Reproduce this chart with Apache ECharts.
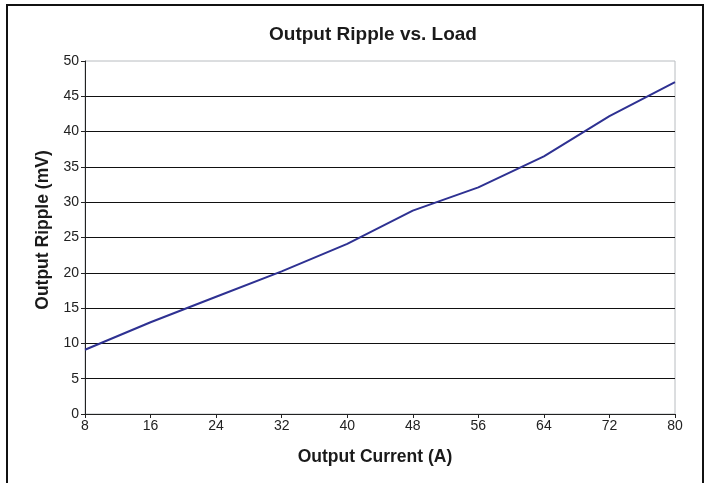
<!DOCTYPE html>
<html>
<head>
<meta charset="utf-8">
<script src="https://cdn.jsdelivr.net/npm/echarts@6/dist/echarts.min.js"></script>
<style>html,body{margin:0;padding:0;background:#fff;}#c{width:709px;height:483px;}</style>
</head>
<body>
<div id="c"></div>
<script>
var currents = [8, 16, 24, 32, 40, 48, 56, 64, 72, 80];
var ripple = [9.1, 13.0, 16.6, 20.2, 24.1, 28.8, 32.1, 36.5, 42.2, 47.0];
var titleText = 'Output Ripple vs. Load';
var xName = 'Output Current (A)';
var yName = 'Output Ripple (mV)';

var chart = echarts.init(document.getElementById('c'), null, {renderer: 'canvas'});
var font = '"Liberation Sans", Arial, sans-serif';
chart.setOption({
  animation: false,
  backgroundColor: '#fff',
  title: {
    text: titleText, left: 368, top: 20, textAlign: 'center',
    textStyle: {fontFamily: font, fontSize: 19, fontWeight: 'bold', color: '#1a1a1a'}
  },
  graphic: [{
    type: 'rect', shape: {x: 7, y: 5, width: 696, height: 500},
    style: {fill: 'none', stroke: '#111', lineWidth: 2}, silent: true
  }],
  grid: {left: 85, right: 34, top: 61, bottom: 69, show: true, borderColor: '#b8bcc0', borderWidth: 1, backgroundColor: 'transparent'},
  xAxis: {
    type: 'value', min: 8, max: 80, interval: 8,
    name: xName, nameLocation: 'middle', nameGap: 34,
    nameTextStyle: {fontFamily: font, fontSize: 17.5, fontWeight: 'bold', color: '#1a1a1a', padding: [0, 10, 0, 0]},
    axisLine: {lineStyle: {color: '#222', width: 1}},
    axisTick: {show: true, length: 4, lineStyle: {color: '#222'}},
    axisLabel: {fontFamily: font, fontSize: 14, color: '#222', margin: 5},
    splitLine: {show: false}
  },
  yAxis: {
    type: 'value', min: 0, max: 50, interval: 5,
    name: yName, nameLocation: 'middle', nameGap: 33,
    nameTextStyle: {fontFamily: font, fontSize: 17.5, fontWeight: 'bold', color: '#1a1a1a', padding: [0, 0, 0, 15]},
    axisLine: {show: true, lineStyle: {color: '#222', width: 1}},
    axisTick: {show: true, length: 4, lineStyle: {color: '#222'}},
    axisLabel: {fontFamily: font, fontSize: 14, color: '#222', margin: 6},
    splitLine: {show: true, showMaxLine: false, showMinLine: false, lineStyle: {color: '#111', width: 1}}
  },
  series: [{
    type: 'line',
    data: currents.map(function (x, i) { return [x, ripple[i]]; }),
    showSymbol: false, symbol: 'none',
    lineStyle: {color: '#2e3192', width: 2},
    itemStyle: {color: '#2e3192'}
  }]
});
</script>
</body>
</html>
